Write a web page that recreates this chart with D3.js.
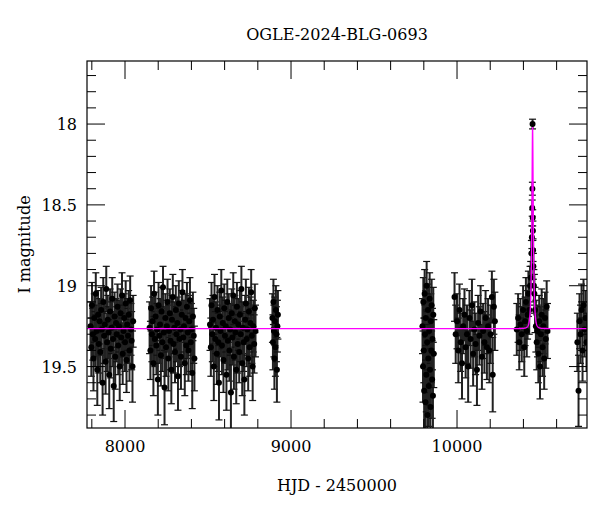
<!DOCTYPE html>
<html><head><meta charset="utf-8">
<script src="https://cdn.jsdelivr.net/npm/d3@7"></script>
<style>body{margin:0;background:#fff}text{font-family:"DejaVu Serif","Liberation Serif",serif}</style>
</head><body><svg id="c" width="600" height="512"></svg>
<script>
const title = "OGLE-2024-BLG-0693";
const xLabel = "HJD - 2450000";
const yLabel = "I magnitude";
const xTicks = [8000, 9000, 10000];
const yTicks = [18, 18.5, 19, 19.5];
// [HJD-2450000, I mag, error]
const season1 = [[7792,19.25,0.15],[7797,19.38,0.18],[7801,19.12,0.14],[7806,19.30,0.16],[7810,19.45,0.2],[7815,19.20,0.15],[7820,19.33,0.17],[7824,19.05,0.13],[7829,19.28,0.16],[7833,19.52,0.22],[7838,19.18,0.15],[7842,19.36,0.18],[7847,19.22,0.14],[7851,19.41,0.19],[7856,19.15,0.14],[7860,19.27,0.16],[7865,19.60,0.2],[7869,19.10,0.15],[7874,19.31,0.17],[7878,19.24,0.15],[7883,19.47,0.2],[7887,19.02,0.14],[7892,19.35,0.18],[7896,19.21,0.15],[7901,19.29,0.16],[7905,19.55,0.21],[7910,19.16,0.14],[7914,19.39,0.18],[7919,19.26,0.16],[7923,19.08,0.13],[7928,19.33,0.17],[7932,19.62,0.22],[7937,19.19,0.15],[7941,19.44,0.2],[7946,19.23,0.15],[7950,19.30,0.17],[7955,19.13,0.14],[7959,19.37,0.18],[7964,19.25,0.16],[7968,19.50,0.21],[7973,19.17,0.15],[7977,19.32,0.17],[7982,19.06,0.14],[7986,19.42,0.19],[7991,19.28,0.16],[7995,19.20,0.15],[8000,19.35,0.18],[8004,19.11,0.14],[8009,19.46,0.2],[8013,19.24,0.16],[8018,19.31,0.17],[8022,19.18,0.15],[8027,19.40,0.19],[8031,19.09,0.15],[8036,19.27,0.16],[8040,19.34,0.18],[8045,19.50,0.22],[8049,19.22,0.16]];
const season2 = [[8148,19.26,0.16],[8153,19.40,0.18],[8157,19.14,0.14],[8162,19.30,0.17],[8166,19.22,0.15],[8171,19.48,0.2],[8175,19.05,0.14],[8180,19.33,0.17],[8184,19.19,0.15],[8189,19.37,0.18],[8193,19.27,0.16],[8198,19.58,0.22],[8202,19.12,0.14],[8207,19.31,0.17],[8211,19.24,0.16],[8216,19.43,0.19],[8220,19.16,0.15],[8225,19.35,0.18],[8229,19.01,0.13],[8234,19.29,0.16],[8238,19.63,0.23],[8243,19.20,0.15],[8247,19.38,0.18],[8252,19.25,0.16],[8256,19.10,0.14],[8261,19.45,0.2],[8265,19.28,0.16],[8270,19.17,0.15],[8274,19.34,0.18],[8279,19.52,0.21],[8283,19.21,0.15],[8288,19.07,0.14],[8292,19.36,0.18],[8297,19.26,0.16],[8301,19.41,0.19],[8306,19.15,0.15],[8310,19.30,0.17],[8315,19.23,0.16],[8319,19.56,0.21],[8324,19.11,0.14],[8328,19.33,0.17],[8333,19.27,0.16],[8337,19.44,0.2],[8342,19.18,0.15],[8346,19.04,0.14],[8351,19.32,0.17],[8355,19.25,0.16],[8360,19.48,0.2],[8364,19.20,0.15],[8369,19.37,0.18],[8373,19.13,0.15],[8378,19.29,0.16],[8382,19.40,0.19],[8387,19.22,0.16],[8391,19.09,0.14],[8396,19.35,0.18],[8400,19.27,0.16],[8405,19.54,0.22],[8409,19.19,0.15],[8414,19.31,0.17],[8418,19.45,0.2]];
const season3 = [[8512,19.24,0.16],[8517,19.38,0.18],[8521,19.12,0.14],[8526,19.30,0.17],[8530,19.21,0.15],[8535,19.50,0.21],[8539,19.07,0.14],[8544,19.33,0.17],[8548,19.26,0.16],[8553,19.42,0.19],[8557,19.15,0.15],[8562,19.35,0.18],[8566,19.60,0.23],[8571,19.19,0.15],[8575,19.28,0.16],[8580,19.03,0.13],[8584,19.37,0.18],[8589,19.23,0.16],[8593,19.46,0.2],[8598,19.14,0.15],[8602,19.31,0.17],[8607,19.25,0.16],[8611,19.55,0.22],[8616,19.10,0.14],[8620,19.34,0.18],[8625,19.20,0.15],[8629,19.40,0.19],[8634,19.27,0.16],[8638,19.66,0.23],[8643,19.17,0.15],[8647,19.32,0.17],[8652,19.06,0.14],[8656,19.44,0.2],[8661,19.22,0.16],[8665,19.29,0.17],[8670,19.52,0.21],[8674,19.13,0.15],[8679,19.36,0.18],[8683,19.24,0.16],[8688,19.41,0.19],[8692,19.18,0.15],[8697,19.30,0.17],[8701,19.02,0.14],[8706,19.48,0.2],[8710,19.26,0.16],[8715,19.35,0.18],[8719,19.58,0.22],[8724,19.21,0.15],[8728,19.11,0.15],[8733,19.33,0.17],[8737,19.27,0.16],[8742,19.45,0.2],[8746,19.16,0.15],[8751,19.38,0.18],[8755,19.23,0.16],[8760,19.04,0.14],[8764,19.31,0.17],[8769,19.50,0.21],[8773,19.25,0.16],[8778,19.36,0.18],[8782,19.14,0.15],[8786,19.28,0.16]];
const season4 = [[8888,19.20,0.15],[8891,19.35,0.17],[8894,19.10,0.14],[8897,19.28,0.16],[8900,19.45,0.19],[8903,19.22,0.15],[8906,19.38,0.18],[8909,19.15,0.15],[8912,19.30,0.17],[8915,19.52,0.2],[8918,19.25,0.16],[8921,19.18,0.15]];
const season5 = [[9792,19.25,0.17],[9795,19.50,0.22],[9797,19.10,0.15],[9800,19.40,0.2],[9802,19.65,0.25],[9805,19.05,0.15],[9807,19.30,0.18],[9810,19.72,0.26],[9812,19.20,0.17],[9815,19.55,0.23],[9817,19.00,0.15],[9820,19.35,0.19],[9822,19.80,0.28],[9825,19.15,0.16],[9827,19.45,0.21],[9830,19.62,0.25],[9832,19.28,0.18],[9835,19.08,0.16],[9837,19.52,0.22],[9840,19.75,0.27],[9842,19.22,0.17],[9845,19.40,0.2],[9847,19.12,0.16],[9850,19.58,0.24],[9852,19.33,0.19],[9855,19.68,0.26],[9857,19.18,0.17],[9860,19.42,0.21]];
const season6 = [[9985,19.07,0.15],[9992,19.30,0.18],[10000,19.22,0.17],[10008,19.40,0.2],[10015,19.15,0.16],[10022,19.35,0.18],[10030,19.48,0.22],[10037,19.25,0.17],[10045,19.18,0.16],[10052,19.38,0.19],[10060,19.30,0.18],[10067,19.50,0.22],[10075,19.20,0.17],[10082,19.33,0.18],[10090,19.12,0.16],[10097,19.42,0.2],[10105,19.27,0.17],[10112,19.36,0.19],[10120,19.52,0.22],[10127,19.23,0.17],[10135,19.31,0.18],[10142,19.16,0.16],[10150,19.44,0.2],[10157,19.28,0.17],[10165,19.35,0.19],[10172,19.20,0.17],[10180,19.38,0.2],[10187,19.25,0.17],[10195,19.40,0.2],[10202,19.30,0.18],[10210,19.07,0.16],[10215,19.55,0.23],[10222,19.13,0.17],[10228,19.22,0.18]];
const season7 = [[10360,19.27,0.16],[10368,19.20,0.15],[10375,19.35,0.17],[10382,19.24,0.16],[10390,19.30,0.17],[10398,19.15,0.15],[10405,19.38,0.18],[10410,19.22,0.15],[10415,19.10,0.15],[10420,19.28,0.16],[10425,19.18,0.15],[10430,19.05,0.14],[10435,19.15,0.15],[10440,19.00,0.12],[10444,18.95,0.1],[10448,18.80,0.08],[10451,18.70,0.07],[10453,18.52,0.05],[10454,18.40,0.04],[10455,18.00,0.03],[10456,18.58,0.05],[10457,18.66,0.06],[10458,18.78,0.07],[10460,18.88,0.08],[10463,19.00,0.1],[10466,19.05,0.12],[10470,19.15,0.14],[10475,19.25,0.16],[10480,19.35,0.17],[10485,19.28,0.16],[10490,19.42,0.18],[10495,19.22,0.16],[10500,19.50,0.2],[10505,19.30,0.17],[10510,19.18,0.16],[10515,19.38,0.18],[10520,19.25,0.17],[10525,19.45,0.19],[10530,19.20,0.16],[10535,19.33,0.18],[10540,19.13,0.16],[10545,19.28,0.17]];
const season8 = [[10725,19.35,0.18],[10732,19.65,0.22],[10738,19.22,0.17],[10744,19.30,0.18],[10750,19.15,0.16],[10756,19.40,0.19],[10762,19.12,0.16],[10768,19.27,0.17],[10774,19.20,0.17],[10780,19.35,0.18]];
// PSPL model
const model = { t0: 10455.2, tE: 9, u0: 0.33, base: 19.265 };

const W=600,H=512, m={l:87,r:13,t:61,b:84};
const svg=d3.select("#c");
const x=d3.scaleLinear().domain([7771,10783]).range([m.l,W-m.r]);
const y=d3.scaleLinear().domain([17.61,19.88]).range([m.t,H-m.b]);
const data=[].concat(season1,season2,season3,season4,season5,season6,season7,season8);
svg.append("clipPath").attr("id","cp").append("rect").attr("x",m.l).attr("y",m.t).attr("width",W-m.l-m.r).attr("height",H-m.t-m.b);
const pg=svg.append("g").attr("clip-path","url(#cp)");
data.forEach(d=>{
  const X=x(d[0]), y1=y(d[1]-d[2]), y2=y(d[1]+d[2]);
  pg.append("line").attr("x1",X).attr("x2",X).attr("y1",y1).attr("y2",y2).attr("stroke","#222").attr("stroke-width",2);
  [y1,y2].forEach(v=>pg.append("line").attr("x1",X-3.5).attr("x2",X+3.5).attr("y1",v).attr("y2",v).attr("stroke","#111").attr("stroke-width",1.2));
});
pg.selectAll("circle").data(data).join("circle").attr("cx",d=>x(d[0])).attr("cy",d=>y(d[1])).attr("r",3).attr("fill","#000");
const ts=d3.range(7771,10784,1).concat(d3.range(10430,10480,0.1)).sort((a,b)=>a-b);
const mag=t=>{const u=Math.hypot(model.u0,(t-model.t0)/model.tE);const A=(u*u+2)/(u*Math.sqrt(u*u+4));return model.base-2.5*Math.log10(A);};
pg.append("path").datum(ts).attr("fill","none").attr("stroke","#ff00ff").attr("stroke-width",1.3)
 .attr("d",d3.line().x(t=>x(t)).y(t=>y(mag(t))));
svg.append("rect").attr("x",m.l).attr("y",m.t).attr("width",W-m.l-m.r).attr("height",H-m.t-m.b).attr("fill","none").attr("stroke","#000").attr("stroke-width",1.2);
const tk=svg.append("g").attr("stroke","#000").attr("stroke-width",1);
d3.range(7800,10800,200).forEach(v=>{const X=x(v),L=v%1000===0?18:9;
  tk.append("line").attr("x1",X).attr("x2",X).attr("y1",H-m.b).attr("y2",H-m.b-L);
  tk.append("line").attr("x1",X).attr("x2",X).attr("y1",m.t).attr("y2",m.t+L);});
d3.range(17.7,19.85,0.1).forEach(v=>{const Y=y(v),L=Math.abs(v*2-Math.round(v*2))<1e-6?18:9;
  tk.append("line").attr("x1",m.l).attr("x2",m.l+L).attr("y1",Y).attr("y2",Y);
  tk.append("line").attr("x1",W-m.r).attr("x2",W-m.r-L).attr("y1",Y).attr("y2",Y);});
svg.selectAll(".xt").data(xTicks).join("text").attr("x",d=>x(d)).attr("y",H-m.b+24).attr("text-anchor","middle").attr("font-size",16).text(d=>d);
svg.selectAll(".yt").data(yTicks).join("text").attr("x",m.l-10).attr("y",d=>y(d)+6).attr("text-anchor","end").attr("font-size",16).text(d=>d);
svg.append("text").attr("x",(m.l+W-m.r)/2).attr("y",H-m.b+63).attr("text-anchor","middle").attr("font-size",16).text(xLabel);
svg.append("text").attr("transform",`translate(30,${(m.t+H-m.b)/2}) rotate(-90)`).attr("text-anchor","middle").attr("font-size",16).text(yLabel);
svg.append("text").attr("x",(m.l+W-m.r)/2).attr("y",40).attr("text-anchor","middle").attr("font-size",16).text(title);
</script></body></html>
